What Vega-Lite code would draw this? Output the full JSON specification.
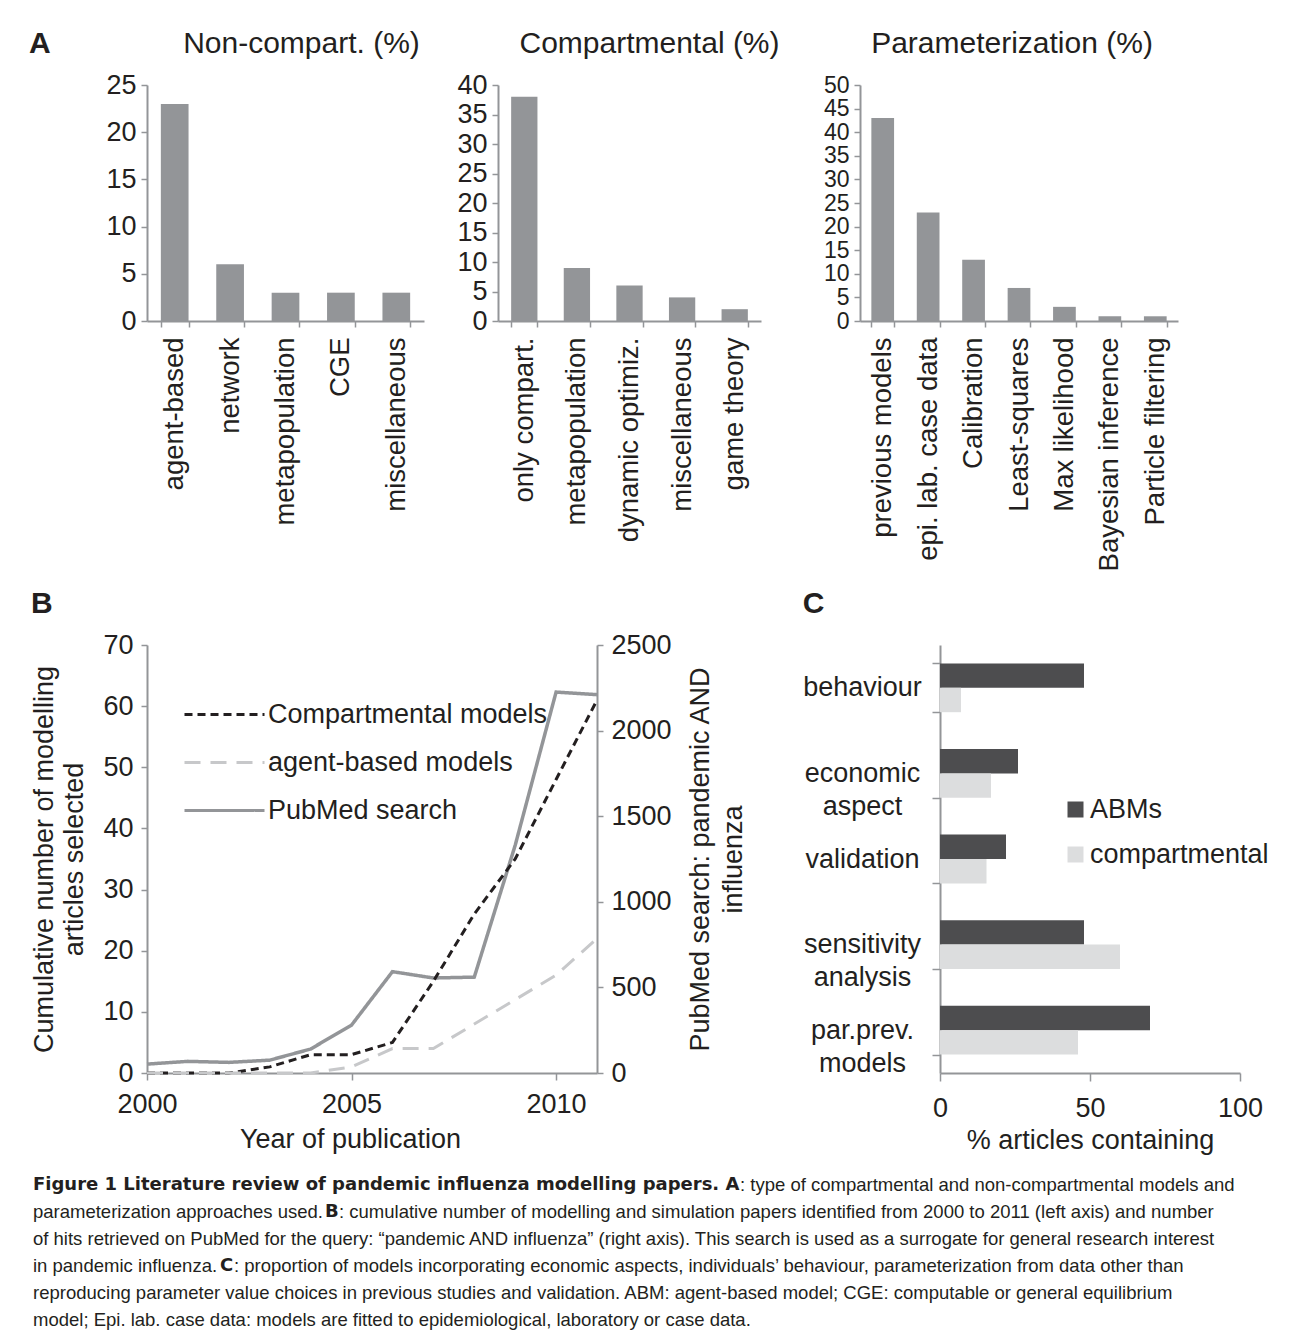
{
  "$schema": "https://vega.github.io/schema/vega-lite/v6.json",
  "padding": {"left": 28, "top": 29, "right": 5, "bottom": 5},
  "background": "white",
  "datasets": {
    "a1": [
      {"k": "agent-based", "v": 23},
      {"k": "network", "v": 6},
      {"k": "metapopulation", "v": 3},
      {"k": "CGE", "v": 3},
      {"k": "miscellaneous", "v": 3}
    ],
    "a2": [
      {"k": "only compart.", "v": 38},
      {"k": "metapopulation", "v": 9},
      {"k": "dynamic optimiz.", "v": 6},
      {"k": "miscellaneous", "v": 4},
      {"k": "game theory", "v": 2}
    ],
    "a3": [
      {"k": "previous models", "v": 43},
      {"k": "epi. lab. case data", "v": 23},
      {"k": "Calibration", "v": 13},
      {"k": "Least-squares", "v": 7},
      {"k": "Max likelihood", "v": 3},
      {"k": "Bayesian inference", "v": 1},
      {"k": "Particle filtering", "v": 1}
    ],
    "b": [
      {"year": 2000, "series": "Compartmental models", "value": 0},
      {"year": 2001, "series": "Compartmental models", "value": 0},
      {"year": 2002, "series": "Compartmental models", "value": 0},
      {"year": 2003, "series": "Compartmental models", "value": 1},
      {"year": 2004, "series": "Compartmental models", "value": 3},
      {"year": 2005, "series": "Compartmental models", "value": 3},
      {"year": 2006, "series": "Compartmental models", "value": 5},
      {"year": 2007, "series": "Compartmental models", "value": 15},
      {"year": 2008, "series": "Compartmental models", "value": 26},
      {"year": 2009, "series": "Compartmental models", "value": 35},
      {"year": 2010, "series": "Compartmental models", "value": 48},
      {"year": 2011, "series": "Compartmental models", "value": 61},
      {"year": 2000, "series": "agent-based models", "value": 0},
      {"year": 2001, "series": "agent-based models", "value": 0},
      {"year": 2002, "series": "agent-based models", "value": 0},
      {"year": 2003, "series": "agent-based models", "value": 0},
      {"year": 2004, "series": "agent-based models", "value": 0},
      {"year": 2005, "series": "agent-based models", "value": 1},
      {"year": 2006, "series": "agent-based models", "value": 4},
      {"year": 2007, "series": "agent-based models", "value": 4},
      {"year": 2008, "series": "agent-based models", "value": 8},
      {"year": 2009, "series": "agent-based models", "value": 12},
      {"year": 2010, "series": "agent-based models", "value": 16},
      {"year": 2011, "series": "agent-based models", "value": 22},
      {"year": 2000, "series": "PubMed search", "value": 52},
      {"year": 2001, "series": "PubMed search", "value": 68},
      {"year": 2002, "series": "PubMed search", "value": 62},
      {"year": 2003, "series": "PubMed search", "value": 75},
      {"year": 2004, "series": "PubMed search", "value": 140},
      {"year": 2005, "series": "PubMed search", "value": 280},
      {"year": 2006, "series": "PubMed search", "value": 592},
      {"year": 2007, "series": "PubMed search", "value": 555},
      {"year": 2008, "series": "PubMed search", "value": 560},
      {"year": 2009, "series": "PubMed search", "value": 1330},
      {"year": 2010, "series": "PubMed search", "value": 2225},
      {"year": 2011, "series": "PubMed search", "value": 2210}
    ],
    "c": [
      {"aspect": "behaviour", "type": "ABMs", "pct": 48},
      {"aspect": "behaviour", "type": "compartmental", "pct": 7},
      {"aspect": "economic aspect", "type": "ABMs", "pct": 26},
      {"aspect": "economic aspect", "type": "compartmental", "pct": 17},
      {"aspect": "validation", "type": "ABMs", "pct": 22},
      {"aspect": "validation", "type": "compartmental", "pct": 15.5},
      {"aspect": "sensitivity analysis", "type": "ABMs", "pct": 48},
      {"aspect": "sensitivity analysis", "type": "compartmental", "pct": 60},
      {"aspect": "par.prev. models", "type": "ABMs", "pct": 70},
      {"aspect": "par.prev. models", "type": "compartmental", "pct": 46}
    ],
    "caption": [
      {"line": 1, "seg": "h1", "text": "Figure 1 Literature review of pandemic influenza modelling papers. A"},
      {"line": 1, "seg": "r1", "text": ": type of compartmental and non-compartmental models and"},
      {"line": 2, "seg": "p", "text": "parameterization approaches used."},
      {"line": 2, "seg": "b2", "text": "B"},
      {"line": 2, "seg": "r2", "text": ": cumulative number of modelling and simulation papers identified from 2000 to 2011 (left axis) and number"},
      {"line": 3, "seg": "p", "text": "of hits retrieved on PubMed for the query: “pandemic AND influenza” (right axis). This search is used as a surrogate for general research interest"},
      {"line": 4, "seg": "p", "text": "in pandemic influenza."},
      {"line": 4, "seg": "b4", "text": "C"},
      {"line": 4, "seg": "r4", "text": ": proportion of models incorporating economic aspects, individuals’ behaviour, parameterization from data other than"},
      {"line": 5, "seg": "p", "text": "reproducing parameter value choices in previous studies and validation. ABM: agent-based model; CGE: computable or general equilibrium"},
      {"line": 6, "seg": "p", "text": "model; Epi. lab. case data: models are fitted to epidemiological, laboratory or case data."}
    ]
  },
  "config": {
    "font": "Liberation Sans",
    "view": {"stroke": null},
    "axis": {
      "domainColor": "#939598", "tickColor": "#939598", "domainWidth": 2, "tickWidth": 1.5, "tickSize": 6,
      "labelColor": "#231f20", "titleColor": "#231f20", "labelFont": "Liberation Sans", "titleFont": "Liberation Sans",
      "labelFontSize": 27, "titleFontSize": 27, "titleFontWeight": "normal", "grid": false, "labelLimit": 0, "labelFlush": false
    },
    "title": {"font": "Liberation Sans", "fontWeight": "normal", "fontSize": 30, "color": "#231f20"},
    "legend": {"labelFont": "Liberation Sans", "labelFontSize": 27, "labelColor": "#231f20", "labelLimit": 0}
  },
  "columns": 1,
  "align": "none",
  "spacing": 19,
  "concat": [
    {
      "spacing": 18,
      "vconcat": [
        {
          "title": {"text": "A", "anchor": "start", "fontWeight": "bold", "fontSize": 30, "dx": -77, "dy": 34},
          "spacing": 32,
          "hconcat": [
            {
              "width": 277, "height": 236,
              "data": {"name": "a1"},
              "title": {"text": "Non-compart. (%)", "frame": "group", "dx": 16, "offset": 12},
              "mark": {"type": "bar", "color": "#939598"},
              "encoding": {
                "x": {"field": "k", "type": "nominal", "sort": null, "scale": {"paddingInner": 0.5, "paddingOuter": 0.25},
                      "axis": {"title": null, "labelAngle": -90, "tickBand": "extent", "labelPadding": 10, "labelFontSize": 27.5}},
                "y": {"field": "v", "type": "quantitative", "scale": {"domain": [0, 25], "nice": false},
                      "axis": {"title": null, "values": [0, 5, 10, 15, 20, 25], "labelOverlap": false, "labelPadding": 5}}
              }
            },
            {
              "width": 263, "height": 236,
              "data": {"name": "a2"},
              "title": {"text": "Compartmental (%)", "frame": "group", "dx": 20, "offset": 12},
              "mark": {"type": "bar", "color": "#939598"},
              "encoding": {
                "x": {"field": "k", "type": "nominal", "sort": null, "scale": {"paddingInner": 0.5, "paddingOuter": 0.25},
                      "axis": {"title": null, "labelAngle": -90, "tickBand": "extent", "labelPadding": 10, "labelFontSize": 27.5}},
                "y": {"field": "v", "type": "quantitative", "scale": {"domain": [0, 40], "nice": false},
                      "axis": {"title": null, "values": [0, 5, 10, 15, 20, 25, 30, 35, 40], "labelOverlap": false, "labelPadding": 5}}
              }
            },
            {
              "width": 318, "height": 236,
              "data": {"name": "a3"},
              "title": {"text": "Parameterization (%)", "frame": "group", "dx": -7, "offset": 15},
              "mark": {"type": "bar", "color": "#939598"},
              "encoding": {
                "x": {"field": "k", "type": "nominal", "sort": null, "scale": {"paddingInner": 0.5, "paddingOuter": 0.25},
                      "axis": {"title": null, "labelAngle": -90, "tickBand": "extent", "labelPadding": 10, "labelFontSize": 27.5}},
                "y": {"field": "v", "type": "quantitative", "scale": {"domain": [0, 50], "nice": false},
                      "axis": {"title": " ", "titleFontSize": 11, "titlePadding": 0, "values": [0, 5, 10, 15, 20, 25, 30, 35, 40, 45, 50], "labelOverlap": false, "labelPadding": 5, "labelFontSize": 23}}
              }
            }
          ]
        },
        {
          "spacing": 55,
          "resolve": {"scale": {"color": "independent", "strokeDash": "independent"}},
          "hconcat": [
            {
              "width": 450, "height": 428,
              "data": {"name": "b"},
              "title": {"text": "B", "anchor": "start", "fontWeight": "bold", "fontSize": 30, "offset": 12},
              "encoding": {
                "x": {"field": "year", "type": "quantitative", "scale": {"domain": [2000, 2011], "nice": false, "zero": false},
                      "axis": {"title": "Year of publication", "values": [2000, 2005, 2010], "format": "d", "tickSize": 7, "labelPadding": 11, "titlePadding": 9, "titleX": 203}}
              },
              "layer": [
                {
                  "transform": [{"filter": "datum.series === 'PubMed search'"}],
                  "mark": {"type": "line", "strokeWidth": 3.5},
                  "encoding": {
                    "y": {"field": "value", "type": "quantitative", "scale": {"domain": [0, 2500], "nice": false},
                          "axis": {"orient": "right", "format": "d", "title": ["PubMed search: pandemic AND", "influenza"], "values": [0, 500, 1000, 1500, 2000, 2500], "titleAngle": -90, "titlePadding": 10, "titleLineHeight": 33, "labelPadding": 8}},
                    "color": {"field": "series", "type": "nominal",
                              "scale": {"domain": ["Compartmental models", "agent-based models", "PubMed search"], "range": ["#231f20", "#c7c8ca", "#939598"]},
                              "legend": {"title": null, "orient": "none", "legendX": 94, "legendY": 56, "symbolType": "M-7,0H1", "symbolSize": 400, "symbolStrokeWidth": 3, "labelFontSize": 27, "labelOffset": 0, "rowPadding": 20}},
                    "strokeDash": {"field": "series", "type": "nominal",
                              "scale": {"domain": ["Compartmental models", "agent-based models", "PubMed search"], "range": [[8, 5], [16, 10], [1, 0]]},
                              "legend": {"title": null, "orient": "none", "legendX": 94, "legendY": 56, "symbolType": "M-7,0H1", "symbolSize": 400, "symbolStrokeWidth": 3, "labelFontSize": 27, "labelOffset": 0, "rowPadding": 20}}
                  }
                },
                {
                  "transform": [{"filter": "datum.series !== 'PubMed search'"}],
                  "mark": {"type": "line", "strokeWidth": 3},
                  "encoding": {
                    "y": {"field": "value", "type": "quantitative", "scale": {"domain": [0, 70], "nice": false},
                          "axis": {"title": ["Cumulative number of modelling", "articles selected"], "values": [0, 10, 20, 30, 40, 50, 60, 70], "titlePadding": 14, "titleLineHeight": 30, "labelPadding": 8}},
                    "color": {"field": "series", "type": "nominal",
                              "scale": {"domain": ["Compartmental models", "agent-based models", "PubMed search"], "range": ["#231f20", "#c7c8ca", "#939598"]},
                              "legend": {"title": null, "orient": "none", "legendX": 94, "legendY": 56, "symbolType": "M-7,0H1", "symbolSize": 400, "symbolStrokeWidth": 3, "labelFontSize": 27, "labelOffset": 0, "rowPadding": 20}},
                    "strokeDash": {"field": "series", "type": "nominal",
                              "scale": {"domain": ["Compartmental models", "agent-based models", "PubMed search"], "range": [[8, 5], [16, 10], [1, 0]]},
                              "legend": {"title": null, "orient": "none", "legendX": 94, "legendY": 56, "symbolType": "M-7,0H1", "symbolSize": 400, "symbolStrokeWidth": 3, "labelFontSize": 27, "labelOffset": 0, "rowPadding": 20}}
                  }
                }
              ],
              "resolve": {"scale": {"y": "independent"}}
            },
            {
              "width": 300, "height": 428,
              "data": {"name": "c"},
              "title": {"text": "C", "anchor": "start", "fontWeight": "bold", "fontSize": 30, "offset": 12},
              "mark": {"type": "bar"},
              "encoding": {
                "y": {"field": "aspect", "type": "nominal", "sort": null, "scale": {"paddingInner": 0.43, "paddingOuter": 0.215},
                      "axis": {"title": null, "tickBand": "extent", "labelAlign": "center", "labelBaseline": "middle", "labelPadding": 70, "labelExpr": "split(datum.label, ' ')", "labelLineHeight": 33, "tickSize": 8}},
                "yOffset": {"field": "type", "type": "nominal", "sort": ["ABMs", "compartmental"]},
                "x": {"field": "pct", "type": "quantitative", "scale": {"domain": [0, 100], "nice": false},
                      "axis": {"title": "% articles containing", "values": [0, 50, 100], "tickSize": 8, "labelPadding": 14, "titlePadding": 6}},
                "color": {"field": "type", "type": "nominal",
                          "scale": {"domain": ["ABMs", "compartmental"], "range": ["#4d4d4f", "#dcddde"]},
                          "legend": {"title": null, "orient": "none", "legendX": 122, "legendY": 151, "symbolType": "square", "symbolSize": 256, "symbolStrokeWidth": 0, "labelFontSize": 27, "rowPadding": 17, "labelOffset": 1}}
              }
            }
          ]
        }
      ]
    },
    {
      "width": 1230, "height": 161,
      "data": {"name": "caption"},
      "encoding": {
        "x": {"datum": 0, "type": "quantitative", "scale": {"domain": [0, 1]}, "axis": null},
        "y": {"field": "line", "type": "ordinal", "axis": null, "scale": {"padding": 0.5}},
        "text": {"field": "text"}
      },
      "layer": [
        {"transform": [{"filter": "datum.seg === 'p'"}],
         "mark": {"type": "text", "align": "left", "baseline": "middle", "font": "Liberation Sans", "fontSize": 18.5, "color": "#231f20", "dx": -114}},
        {"transform": [{"filter": "datum.seg === 'h1'"}],
         "mark": {"type": "text", "align": "left", "baseline": "middle", "font": "DejaVu Sans", "fontWeight": "bold", "fontSize": 18, "color": "#231f20", "dx": -114}},
        {"transform": [{"filter": "datum.seg === 'r1'"}],
         "mark": {"type": "text", "align": "left", "baseline": "middle", "font": "Liberation Sans", "fontSize": 18.5, "color": "#231f20", "dx": 593}},
        {"transform": [{"filter": "datum.seg === 'b2'"}],
         "mark": {"type": "text", "align": "left", "baseline": "middle", "font": "DejaVu Sans", "fontWeight": "bold", "fontSize": 18, "color": "#231f20", "dx": 178}},
        {"transform": [{"filter": "datum.seg === 'r2'"}],
         "mark": {"type": "text", "align": "left", "baseline": "middle", "font": "Liberation Sans", "fontSize": 18.5, "color": "#231f20", "dx": 192}},
        {"transform": [{"filter": "datum.seg === 'b4'"}],
         "mark": {"type": "text", "align": "left", "baseline": "middle", "font": "DejaVu Sans", "fontWeight": "bold", "fontSize": 18, "color": "#231f20", "dx": 73}},
        {"transform": [{"filter": "datum.seg === 'r4'"}],
         "mark": {"type": "text", "align": "left", "baseline": "middle", "font": "Liberation Sans", "fontSize": 18.5, "color": "#231f20", "dx": 87}}
      ]
    }
  ]
}
